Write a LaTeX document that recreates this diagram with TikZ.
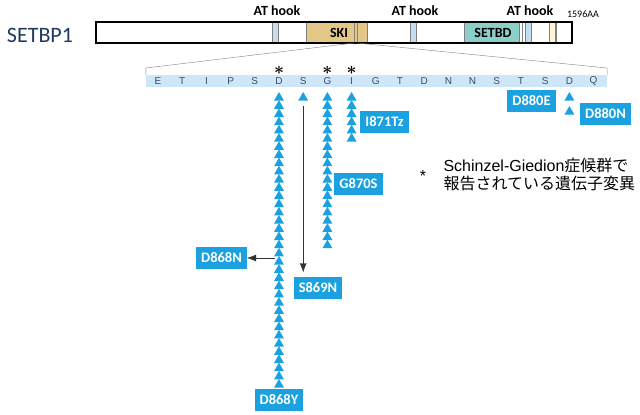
\documentclass[tikz,border=0pt]{standalone}
\usepackage{fontspec}
\setmainfont{Liberation Sans}
\newfontfamily\calfont{Carlito}
\newfontfamily\jpfont{Noto Sans CJK JP}
\usepackage{tikz}
\usetikzlibrary{arrows,arrows.meta,positioning,calc,shapes}

\definecolor{mutblue}{RGB}{27,161,224}
\definecolor{seqblue}{RGB}{206,231,248}
\definecolor{atblue}{RGB}{197,221,240}
\definecolor{skitan}{RGB}{228,200,135}
\definecolor{setbdteal}{RGB}{140,206,200}
\definecolor{paleyellow}{RGB}{255,245,212}
\definecolor{navy}{RGB}{31,56,100}
\definecolor{resgray}{RGB}{60,76,104}

\tikzset{
  tri/.style={regular polygon,regular polygon sides=3,fill=mutblue,inner sep=0pt,minimum size=11.5pt},
  mut/.style={fill=mutblue,text=white,font=\calfont\bfseries\fontsize{14.5}{14.5}\selectfont,inner xsep=5pt,minimum height=22pt},
  res/.style={text=resgray,font=\fontsize{10}{10}\selectfont},
  hook/.style={font=\calfont\bfseries\fontsize{14}{14}\selectfont},
  sgs/.style={font=\boldmath\fontsize{19}{19}\selectfont}
}

\begin{document}
\begin{tikzpicture}[x=1pt,y=-1pt,>={Latex[length=9pt,width=7pt]}]
\useasboundingbox (0,0) rectangle (640,415);

% Protein bar
\node[text=navy,font=\calfont\fontsize{22}{22}\selectfont] (title) at (40,35) {SETBP1};
\draw[fill=white] (96,22) rectangle (572,43);
\draw[gray,fill=atblue] (272,22) rectangle (278,43);
\draw[gray,fill=atblue] (410,22) rectangle (416,43);
\draw[gray,fill=atblue] (525,22) rectangle (531,43);
\draw[gray] (522,22) -- (522,43);
\draw[gray,fill=skitan] (306,22) rectangle (367,43);
\draw[gray,fill=setbdteal] (464,22) rectangle (519,43);
\draw[gray,fill=paleyellow] (549,22) rectangle (555,43);
\draw[gray] (556,22) -- (556,43);
\draw[gray] (354,22) -- (354,43);
\draw[gray] (357,22) -- (357,43);
\draw[line width=1.5pt] (96,22) rectangle (572,43);
\node[hook] at (339,33) {SKI};
\node[hook] at (493,33) {SETBD};
\foreach \x in {277,415,530}
    \node[hook] at (\x,11) {AT hook};
\node[font=\calfont\fontsize{10}{10}\selectfont] at (583,14) {1596AA};

% Zoomed sequence
\node[fill=seqblue,minimum width=461pt,minimum height=12pt,inner sep=0pt] (seq) at (376.5,81) {};
\coordinate (zl) at (354,43);
\coordinate (zr) at (357,43);
\draw[gray] (zl) -- (seq.north west |- 0,68) -- (seq.north west);
\draw[gray] (zr) -- (seq.north east |- 0,68) -- (seq.north east);
\foreach \l [count=\i from 0] in {E,T,I,P,S,D,S,G,I,G,T,D,N,N,S,T,S,D,Q}
    \node[res] (r\i) at ({158+24.2*\i},81) {\l};
\foreach \i in {5,7,8}
    \node[sgs] at ($(r\i)+(0,-11)$) {$\ast$};

% Mutation hits (residue / count / name)
\foreach \i/\n/\c in {5/36/d, 6/1/s, 7/19/g, 8/6/i}
    \foreach \k in {1,...,\n}
        \node[tri] (\c\k) at ($(r\i)+(0,{16.75+8.2*(\k-1)})$) {};
\node[tri] (q1) at ($(r17)+(0,16.75)$) {};
\node[tri] (q2) at ($(r17)+(0,30.75)$) {};

% Mutation labels
\node[mut,below=1pt of d36] (D868Y) {D868Y};
\node[mut] (D868N) at (221.5,258) {D868N};
\node[mut] (S869N) at (318,287.5) {S869N};
\node[mut] (G870S) at (358.5,184) {G870S};
\node[mut] (I871Tz) at (384.5,121.5) {I871Tz};
\node[mut] (D880E) at (531.5,101) {D880E};
\node[mut] (D880N) at (605.5,114) {D880N};

\coordinate (sl) at ($(s1)+(0,8)$);
\coordinate (dn) at (275,258);
\draw[->,black!80,shorten >=4pt] (sl) -- (S869N.north -| sl);
\draw[->,black!80] (dn) -- (D868N.east);

% Note
\node[anchor=base,font=\fontsize{16}{16}\selectfont] (ast) at (423,181) {*};
\node[anchor=west,align=left,font=\fontsize{16}{18}\selectfont] (note) at (440,174)
    {Schinzel-Giedion{\jpfont 症候群で}\\{\jpfont 報告されている遺伝子変異}};
\end{tikzpicture}
\end{document}
